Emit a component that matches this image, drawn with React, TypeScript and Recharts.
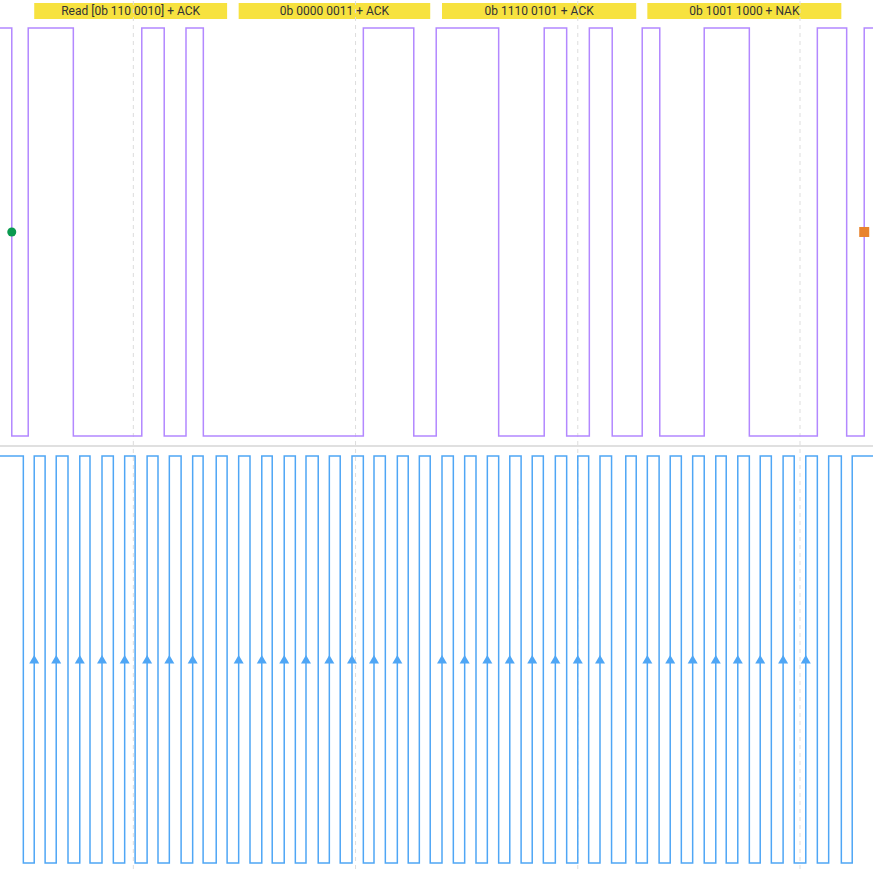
import React from 'react';
import {
  ComposedChart,
  Line,
  Scatter,
  XAxis,
  YAxis,
  ReferenceLine,
  ReferenceArea,
  ReferenceDot,
} from 'recharts';

// time in µs, visible window
const T_MIN = 40;
const T_MAX = 432.85;
const GRID_TICKS = [100, 200, 300, 400];

// SDA starts high, toggles at each edge
const SDA_EDGES = [
  45.3, 52.7, 73.0, 103.8, 113.9, 123.7, 131.5, 203.5, 226.2, 236.3, 264.4,
  284.9, 295.0, 305.2, 315.5, 329.0, 336.9, 356.9, 377.2, 407.8, 421.0, 428.9,
];

// SCL starts high: [fall, rise] per clock
const SCL_CLOCKS = [
  [50.5, 55.4], [60.3, 65.3], [70.6, 75.9], [80.5, 85.9], [91.0, 96.1],
  [100.8, 106.2], [111.1, 116.2], [121.5, 126.7], [131.4, 137.3],
  [142.2, 147.4], [152.5, 157.8], [162.5, 167.9], [172.9, 177.7],
  [183.2, 188.2], [193.1, 198.4], [203.5, 208.3], [213.4, 218.8],
  [223.7, 228.7], [233.6, 238.9], [244.0, 249.1], [254.2, 259.3],
  [264.4, 269.4], [274.5, 279.5], [284.5, 289.9], [295.0, 300.0],
  [304.9, 310.0], [315.2, 321.6], [326.3, 331.3], [336.6, 341.6],
  [346.6, 351.7], [356.9, 362.1], [366.8, 372.0], [377.2, 382.1],
  [387.1, 392.4], [397.4, 402.6], [407.8, 412.9], [418.6, 423.5],
];

const FRAME_LABELS = [
  'Read [0b 110 0010] + ACK',
  '0b 0000 0011 + ACK',
  '0b 1110 0101 + ACK',
  '0b 1001 1000 + NAK',
];

const START_T = 45.3;
const STOP_T = 428.9;

const SDA_COLOR = '#b388ff';
const SCL_COLOR = '#4fa6f5';
const GRID_COLOR = '#dddddd';

function toSteps(edges: number[], start: number) {
  const pts = [{ t: T_MIN, v: start }];
  let v = start;
  edges.forEach((t) => {
    v = 1 - v;
    pts.push({ t, v });
  });
  pts.push({ t: T_MAX, v });
  return pts;
}

const sdaData = toSteps(SDA_EDGES, 1);
const sclData = toSteps(SCL_CLOCKS.flat(), 1);

// data-bit clocks get a marker (skip 9th ack clock and the stop rise)
const bitMarks = SCL_CLOCKS.map((c, i) => ({ t: c[1], v: 0.5, k: i + 1 })).filter(
  (d) => d.k % 9 !== 0 && d.k !== SCL_CLOCKS.length
);

const frames = FRAME_LABELS.map((label, n) => ({
  label,
  x1: SCL_CLOCKS[9 * n][1],
  x2: SCL_CLOCKS[9 * n + 9][0],
}));

const Triangle = (props: any) => {
  const { cx, cy } = props;
  return (
    <polygon
      points={`${cx},${cy - 4.5} ${cx + 5},${cy + 4} ${cx - 5},${cy + 4}`}
      fill={SCL_COLOR}
    />
  );
};

const StopSquare = (props: any) => {
  const { cx, cy } = props;
  return <rect x={cx - 5} y={cy - 5} width={10} height={10} fill="#e8832e" />;
};

const W = 873;

export default function App() {
  return (
    <div
      style={{
        position: 'absolute',
        left: 0,
        top: 0,
        width: W,
        height: 869,
        background: '#fff',
        fontFamily: 'Roboto, sans-serif',
      }}
    >
      <ComposedChart width={W} height={445} data={sdaData} margin={{ top: 0, right: 0, left: 0, bottom: 0 }}>
        <XAxis dataKey="t" type="number" domain={[T_MIN, T_MAX]} hide allowDataOverflow />
        <YAxis type="number" domain={[-0.0221, 1.0686]} hide allowDataOverflow />
        {GRID_TICKS.map((x) => (
          <ReferenceLine key={x} x={x} stroke={GRID_COLOR} strokeDasharray="4 4" />
        ))}
        {frames.map((f) => (
          <ReferenceArea
            key={f.label}
            x1={f.x1}
            x2={f.x2}
            y1={1.0221}
            y2={1.0613}
            fill="#f7e23f"
            fillOpacity={1}
            stroke="none"
            ifOverflow="visible"
            label={{ value: f.label, position: 'center', fill: '#333', fontSize: 12 }}
          />
        ))}
        <Line
          type="stepAfter"
          dataKey="v"
          stroke={SDA_COLOR}
          strokeWidth={1.5}
          dot={false}
          activeDot={false}
          isAnimationActive={false}
        />
        <ReferenceDot x={START_T} y={0.5} r={4.5} fill="#0a9a50" stroke="none" />
        <ReferenceDot x={STOP_T} y={0.5} r={5} shape={StopSquare} />
      </ComposedChart>
      <div style={{ height: 2, background: '#e0e0e0' }} />
      <ComposedChart width={W} height={422} margin={{ top: 0, right: 0, left: 0, bottom: 0 }}>
        <XAxis dataKey="t" type="number" domain={[T_MIN, T_MAX]} hide allowDataOverflow />
        <YAxis type="number" domain={[-0.01474, 1.0221]} hide allowDataOverflow />
        {GRID_TICKS.map((x) => (
          <ReferenceLine key={x} x={x} stroke={GRID_COLOR} strokeDasharray="4 4" />
        ))}
        <Line
          data={sclData}
          type="stepAfter"
          dataKey="v"
          stroke={SCL_COLOR}
          strokeWidth={1.5}
          dot={false}
          activeDot={false}
          isAnimationActive={false}
        />
        <Scatter data={bitMarks} dataKey="v" shape={Triangle} isAnimationActive={false} />
      </ComposedChart>
    </div>
  );
}
